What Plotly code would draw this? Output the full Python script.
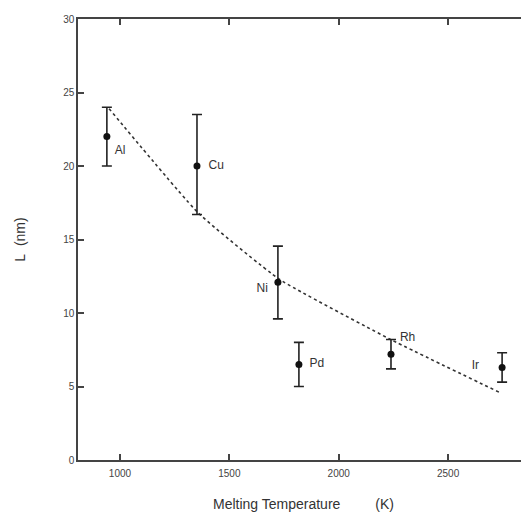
import plotly.graph_objects as go

metals = ["Al", "Cu", "Ni", "Pd", "Rh", "Ir"]
melt_temp = [940, 1352, 1722, 1818, 2239, 2747]
L_nm = [22.0, 20.0, 12.1, 6.5, 7.2, 6.3]
err_plus = [2.0, 3.5, 2.45, 1.5, 1.0, 1.0]
err_minus = [2.0, 3.3, 2.5, 1.5, 1.0, 1.0]

fit_temp = [950, 1358, 1728, 2237, 2735]
fit_L = [23.9, 16.8, 12.3, 8.2, 4.6]

label_x = [1000, 1440, 1650, 1900, 2315, 2625]
label_y = [21.0, 20.0, 11.6, 6.5, 8.3, 6.4]

x_ticks = [1000, 1500, 2000, 2500]
y_ticks = [0, 5, 10, 15, 20, 25, 30]

fig = go.Figure()
fig.add_trace(go.Scatter(
    x=fit_temp, y=fit_L, mode="lines",
    line=dict(color="#333", width=1.6, dash="3px,3px", shape="spline", smoothing=0.4),
    showlegend=False, hoverinfo="skip"))
fig.add_trace(go.Scatter(
    x=melt_temp, y=L_nm, mode="markers",
    marker=dict(color="#111", size=7),
    error_y=dict(type="data", symmetric=False, array=err_plus, arrayminus=err_minus,
                 color="#222", thickness=1.6, width=5),
    showlegend=False))
fig.add_trace(go.Scatter(
    x=label_x, y=label_y, mode="text", text=metals,
    textfont=dict(family="Liberation Sans, Arial", size=12, color="#333"),
    showlegend=False, hoverinfo="skip"))

axis_common = dict(showgrid=False, zeroline=False, showline=True, linecolor="#444", linewidth=1.5,
                   ticks="inside", ticklen=6, tickwidth=1.5, tickcolor="#444", automargin=False,
                   tickfont=dict(family="Liberation Sans, Arial", size=10, color="#444"))
fig.update_xaxes(range=[808, 2870], tickvals=x_ticks, mirror="ticks", ticklabelstandoff=3,
                 title=dict(text="Melting Temperature&nbsp;&nbsp;&nbsp;&nbsp;&nbsp;&nbsp;&nbsp;&nbsp;&nbsp;(K)",
                            font=dict(family="Liberation Sans, Arial", size=14, color="#333"), standoff=21),
                 **axis_common)
fig.update_yaxes(range=[0, 30], tickvals=y_ticks,
                 title=dict(text="L&nbsp;&nbsp;(nm)", font=dict(family="Liberation Sans, Arial", size=14, color="#333"),
                            standoff=34),
                 **axis_common)
fig.update_layout(template="none", width=529, height=515, margin=dict(l=70, r=8, t=11, b=63),
                  plot_bgcolor="white", paper_bgcolor="white")
fig.write_html("out.html")
